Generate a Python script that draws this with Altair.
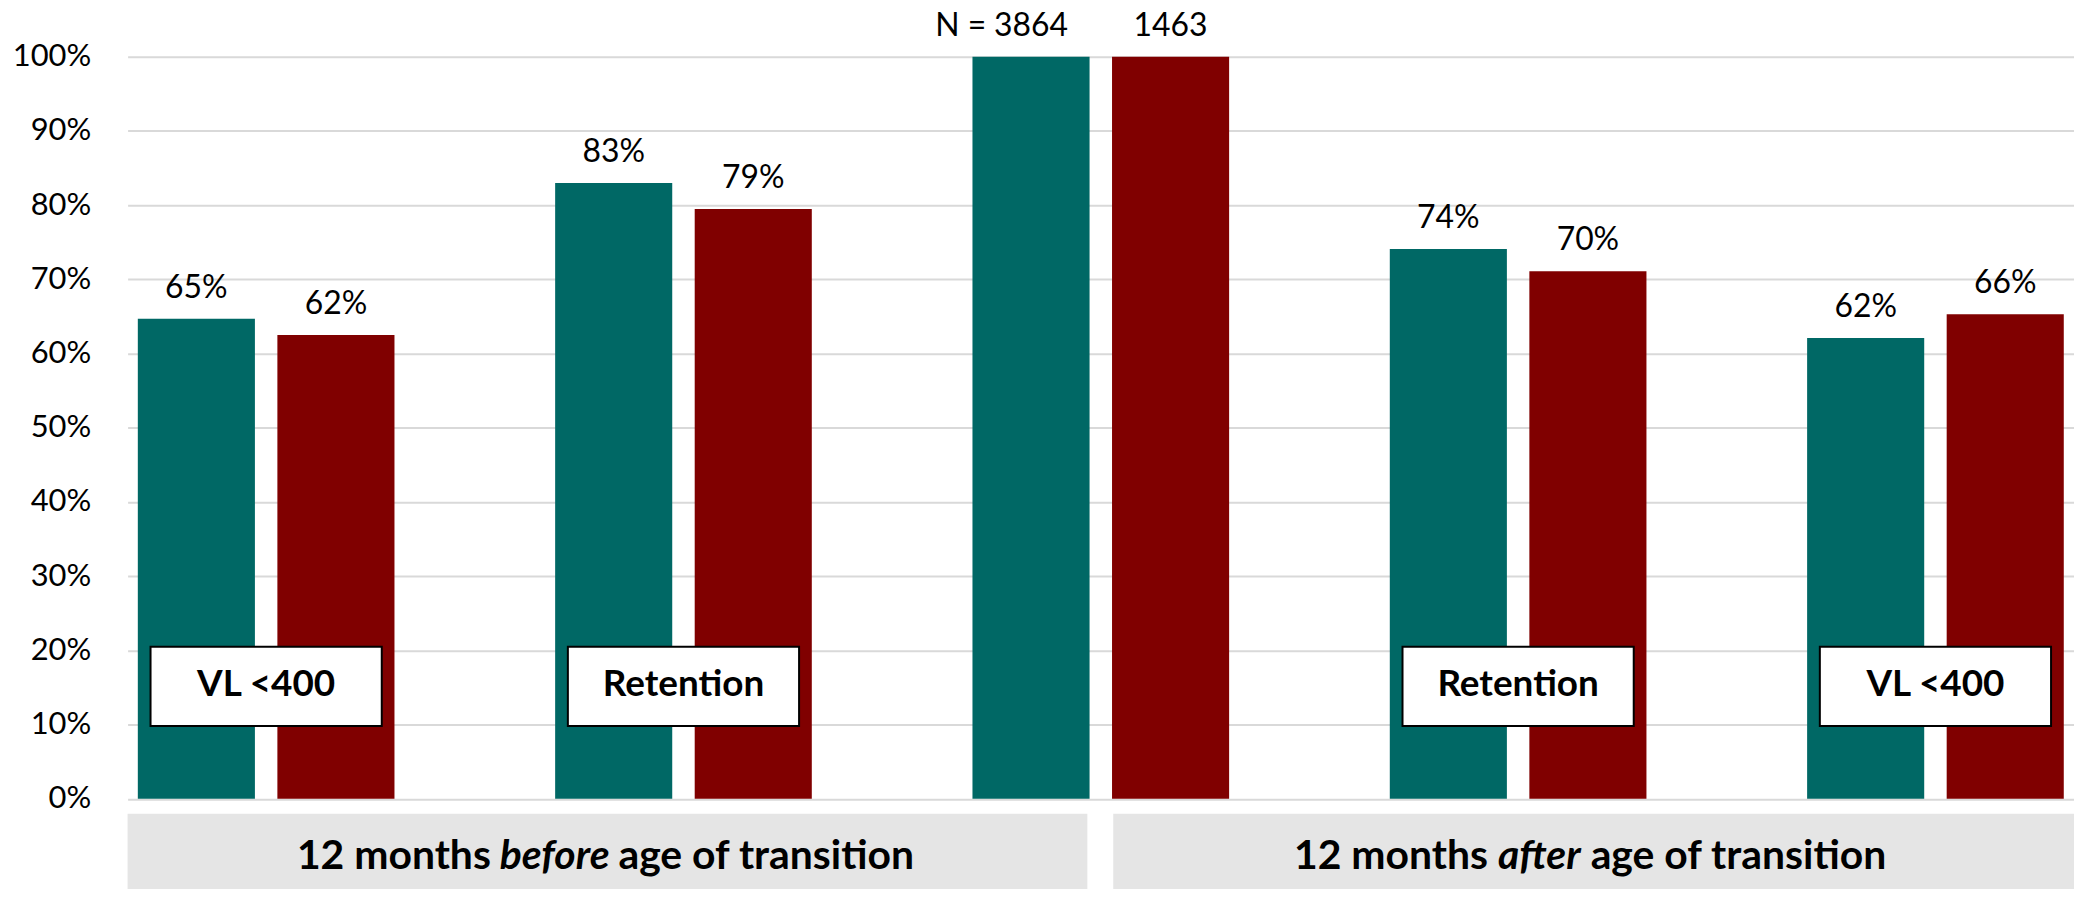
import altair as alt
import pandas as pd

# ---------------- data ----------------
groups = ["VL <400 (before)", "Retention (before)", "N", "Retention (after)", "VL <400 (after)"]
series = ["Group A", "Group B"]
teal_values = [0.647, 0.830, 1.000, 0.741, 0.621]
red_values = [0.625, 0.795, 1.000, 0.711, 0.653]
teal_labels = ["65%", "83%", "3864", "74%", "62%"]
red_labels = ["62%", "79%", "1463", "70%", "66%"]
box_groups = ["VL <400 (before)", "Retention (before)", "Retention (after)", "VL <400 (after)"]
box_labels = ["VL <400", "Retention", "Retention", "VL <400"]
n_prefix = "N ="
banner_before = ["12 months", "before", "age of transition"]
banner_after = ["12 months", "after", "age of transition"]
y_ticks = [0.0, 0.1, 0.2, 0.3, 0.4, 0.5, 0.6, 0.7, 0.8, 0.9, 1.0]

# ---------------- style / layout ----------------
TEAL = "#006865"
RED = "#800000"
GRID = "#D9D9D9"
BANNER = "#E5E5E5"
FONT = "Lato"
W, H = 1953, 744.5

rows = []
for g, v, l in zip(groups, teal_values, teal_labels):
    rows.append({"group": g, "series": series[0], "value": v, "label": l})
for g, v, l in zip(groups, red_values, red_labels):
    rows.append({"group": g, "series": series[1], "value": v, "label": l})
df = pd.DataFrame(rows)

box_df = pd.DataFrame({"group": box_groups, "label": box_labels})
n_df = pd.DataFrame({"group": [groups[2]], "series": [series[0]],
                     "value": [teal_values[2]], "label": [n_prefix]})

x_enc = alt.X("group:N", sort=groups,
              scale=alt.Scale(domain=groups, paddingInner=0.385, paddingOuter=0.0245),
              axis=None)
xoff_enc = alt.XOffset("series:N", sort=series,
                       scale=alt.Scale(domain=series, paddingInner=0.161, paddingOuter=0))
y_enc = alt.Y("value:Q",
              scale=alt.Scale(domain=[0, 1], nice=False),
              axis=alt.Axis(values=y_ticks, format=".0%", labelFontSize=31, labelFont=FONT,
                            labelColor="#000000", labelPadding=37, ticks=False, tickSize=0,
                            domain=False, grid=True, gridColor=GRID, gridWidth=2, title=None))

bars = alt.Chart(df).mark_bar().encode(
    x=x_enc, xOffset=xoff_enc, y=y_enc,
    color=alt.Color("series:N", scale=alt.Scale(domain=series, range=[TEAL, RED]), legend=None),
)

value_labels = alt.Chart(df).mark_text(
    font=FONT, fontSize=32, dy=-21, baseline="alphabetic", color="#000000"
).encode(x=x_enc, xOffset=xoff_enc, y=alt.Y("value:Q"), text="label:N")

n_label = alt.Chart(n_df).mark_text(
    font=FONT, fontSize=32, dy=-21, dx=-45, align="right", baseline="alphabetic", color="#000000"
).encode(x=x_enc, xOffset=xoff_enc, y=alt.Y("value:Q"), text="label:N")

boxes = alt.Chart(box_df).mark_bar(
    size=232, fill="white", stroke="black", strokeWidth=2
).encode(x=x_enc, y=alt.datum(0.098), y2=alt.datum(0.205))

box_text = alt.Chart(box_df).mark_text(
    font=FONT, fontWeight="bold", fontSize=37, baseline="alphabetic", color="#000000"
).encode(x=x_enc, y=alt.datum(0.139), text="label:N")

one = alt.Data(values=[{"k": 1}])


def banner(x0, x1):
    return alt.Chart(one).mark_rect(color=BANNER).encode(
        x=alt.value(x0), x2=alt.value(x1), y=alt.value(H + 15), y2=alt.value(H + 110))


def btext(txt, x, align, italic=False):
    return alt.Chart(one).mark_text(
        text=txt, font=FONT, fontWeight="bold", fontSize=41,
        fontStyle="italic" if italic else "normal",
        align=align, baseline="alphabetic", color="#000000"
    ).encode(x=alt.value(x), y=alt.value(H + 70))


def banner_texts(parts, center, italic_w, gap=9.5):
    return [
        btext(parts[0], center - italic_w / 2 - gap, "right"),
        btext(parts[1], center, "center", italic=True),
        btext(parts[2], center + italic_w / 2 + gap, "left"),
    ]


layers = [bars, value_labels, n_label, boxes, box_text,
          banner(0, 963), banner(989, W)]
layers += banner_texts(banner_before, 428.5, 109)
layers += banner_texts(banner_after, 1416.5, 84)

chart = alt.layer(*layers).properties(
    width=W, height=H,
    autosize=alt.AutoSizeParams(type="none"),
    padding={"left": 120, "top": 47.5, "right": 0, "bottom": 89},
    background="white",
).configure_view(stroke=None)

chart.save("out.html", embed_options={"renderer": "svg", "actions": False})
